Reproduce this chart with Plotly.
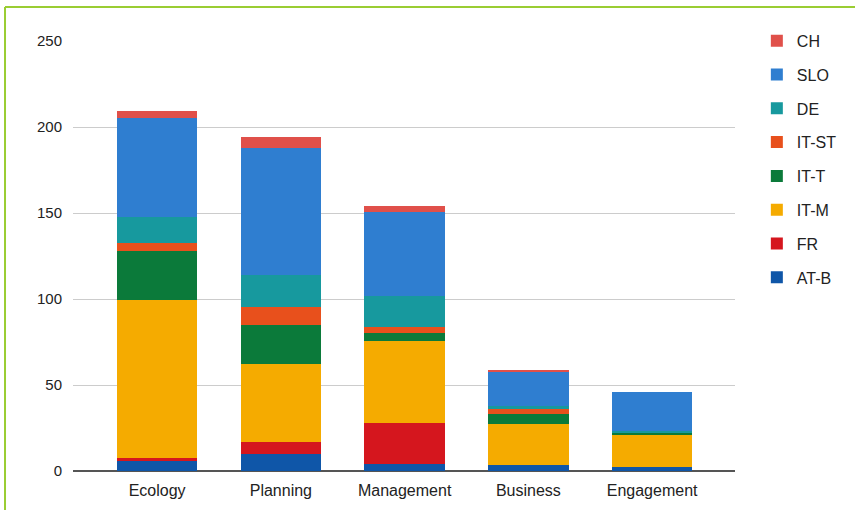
import plotly.graph_objects as go

categories = ["Ecology", "Planning", "Management", "Business", "Engagement"]

# stacked series, bottom to top
at_b  = [6.0, 10.0, 4.0, 3.5, 2.5]
fr    = [1.5, 7.0, 24.0, 0.0, 0.0]
it_m  = [92.0, 45.0, 47.5, 24.0, 18.5]
it_t  = [28.5, 23.0, 4.5, 5.5, 1.5]
it_st = [4.5, 10.5, 4.0, 3.0, 0.0]
de    = [15.0, 18.5, 18.0, 2.0, 1.0]
slo   = [58.0, 74.0, 48.5, 19.5, 22.5]
ch    = [4.0, 6.0, 3.5, 1.5, 0.0]

series_names = ["AT-B", "FR", "IT-M", "IT-T", "IT-ST", "DE", "SLO", "CH"]
series_values = [at_b, fr, it_m, it_t, it_st, de, slo, ch]
series_colors = ["#0F56A8", "#D5161E", "#F5AB00", "#0B7A3A",
                 "#E8501C", "#17999E", "#2F7ED0", "#E0504A"]

y_ticks = [0, 50, 100, 150, 200, 250]

fig = go.Figure()
n = len(series_names)
for i, (name, vals, col) in enumerate(zip(series_names, series_values, series_colors)):
    fig.add_trace(go.Bar(
        x=categories, y=vals, name=name, legendgroup=name,
        legendrank=n - i,
        marker=dict(color=col, line=dict(width=0)),
    ))

font_family = "Liberation Sans, Arial, sans-serif"

fig.update_layout(
    barmode="stack",
    bargap=0.35,
    width=855, height=510,
    margin=dict(l=73, r=120, t=41, b=39),
    plot_bgcolor="white", paper_bgcolor="white",
    font=dict(family=font_family, size=16, color="#222222"),
    showlegend=True,
    legend=dict(
        traceorder="grouped",
        tracegroupgap=10,
        maxheight=480,
        x=1.033, y=1.04, xanchor="left", yanchor="top",
        font=dict(size=16, color="#222222"),
        bgcolor="rgba(0,0,0,0)",
    ),
    xaxis=dict(
        range=[-0.68, 4.67],
        showgrid=False, showline=False, zeroline=False,
        ticks="", ticklabelstandoff=8,
        tickfont=dict(size=16, color="#222222"),
    ),
    yaxis=dict(
        range=[0, 250],
        tickvals=y_ticks,
        showgrid=True, gridcolor="#CCCCCC", gridwidth=1,
        zeroline=True, zerolinecolor="#555555", zerolinewidth=1.5,
        showline=False, ticks="", ticklabelstandoff=10,
        tickfont=dict(size=15, color="#222222"),
    ),
    shapes=[
        dict(type="line", xref="paper", yref="paper",
             x0=-0.1027, x1=-0.1027, y0=-0.10, y1=1.0791,
             line=dict(color="#9ACD32", width=2)),
        dict(type="line", xref="paper", yref="paper",
             x0=-0.1027, x1=1.19, y0=1.0791, y1=1.0791,
             line=dict(color="#9ACD32", width=2)),
    ],
)

fig.write_html("out.html")
